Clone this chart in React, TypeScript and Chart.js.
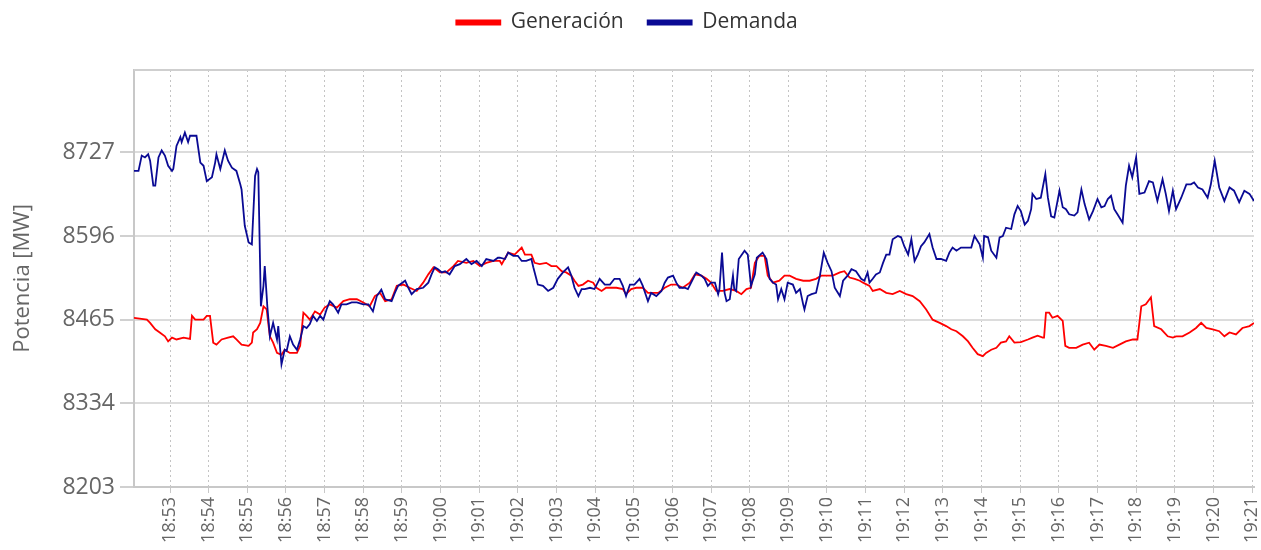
import React, { useEffect, useRef } from 'react';
import { Chart, registerables } from 'chart.js';

Chart.register(...registerables);

// Times are seconds after 18:52:00
const BASE_MINUTES = 18 * 60 + 52;

const xTickLabels = [
  '18:53', '18:54', '18:55', '18:56', '18:57', '18:58', '18:59', '19:00', '19:01', '19:02',
  '19:03', '19:04', '19:05', '19:06', '19:07', '19:08', '19:09', '19:10', '19:11', '19:12',
  '19:13', '19:14', '19:15', '19:16', '19:17', '19:18', '19:19', '19:20', '19:21',
];

const yTicks = [8203, 8334, 8465, 8596, 8727];
const yMin = 8203;
const yMax = 8856;

const generacion: [number, number][] = [
  [4, 8468], [24, 8465], [29, 8460], [37, 8450], [44, 8445], [52, 8439], [57, 8431], [63, 8437], [70, 8434], [81, 8437],
  [91, 8435], [94, 8471], [99, 8465], [112, 8465], [117, 8471], [122, 8471], [127, 8429], [132, 8426], [140, 8434], [150, 8437],
  [158, 8439], [163, 8434], [171, 8426], [182, 8424], [187, 8429], [189, 8445], [195, 8450], [200, 8460], [205, 8486], [210, 8481],
  [213, 8455], [215, 8439], [220, 8429], [226, 8413], [233, 8410], [238, 8418], [246, 8413], [257, 8413], [262, 8424], [267, 8476],
  [272, 8471], [277, 8465], [285, 8478], [293, 8473], [300, 8484], [308, 8489], [319, 8484], [329, 8494], [339, 8497], [350, 8497],
  [360, 8492], [370, 8486], [378, 8502], [386, 8507], [394, 8494], [404, 8497], [412, 8518], [422, 8520], [432, 8515], [443, 8510],
  [453, 8523], [461, 8536], [469, 8547], [479, 8539], [489, 8539], [500, 8549], [507, 8557], [520, 8554], [531, 8557], [541, 8549],
  [551, 8554], [562, 8557], [572, 8557], [575, 8552], [585, 8570], [595, 8567], [606, 8578], [611, 8567], [621, 8567], [626, 8554],
  [634, 8552], [644, 8554], [652, 8549], [660, 8549], [668, 8541], [675, 8539], [683, 8534], [688, 8526], [694, 8518], [701, 8520],
  [709, 8526], [717, 8523], [722, 8515], [730, 8510], [737, 8515], [745, 8515], [753, 8515], [763, 8513], [768, 8505], [776, 8513],
  [784, 8515], [794, 8515], [802, 8507], [810, 8507], [818, 8507], [828, 8515], [838, 8520], [846, 8520], [856, 8515], [867, 8523],
  [875, 8536], [885, 8534], [893, 8529], [900, 8523], [908, 8510], [918, 8510], [929, 8513], [939, 8510], [947, 8505], [955, 8513],
  [962, 8515], [968, 8554], [975, 8565], [983, 8565], [988, 8534], [996, 8523], [1006, 8526], [1014, 8534], [1022, 8534], [1032, 8529],
  [1043, 8526], [1053, 8526], [1063, 8529], [1071, 8534], [1079, 8534], [1089, 8534], [1100, 8539], [1107, 8541], [1115, 8531], [1123, 8529],
  [1131, 8526], [1136, 8523], [1146, 8518], [1151, 8510], [1162, 8513], [1172, 8507], [1182, 8505], [1193, 8510], [1203, 8505], [1213, 8502],
  [1224, 8494], [1234, 8481], [1244, 8465], [1255, 8460], [1265, 8455], [1273, 8450], [1281, 8447], [1291, 8439], [1299, 8431], [1306, 8421],
  [1314, 8411], [1322, 8408], [1327, 8413], [1335, 8418], [1343, 8421], [1350, 8429], [1358, 8431], [1363, 8439], [1371, 8429], [1381, 8430],
  [1392, 8434], [1399, 8437], [1407, 8440], [1415, 8437], [1417, 8437], [1420, 8476], [1425, 8476], [1430, 8468], [1438, 8471], [1446, 8463],
  [1450, 8424], [1456, 8421], [1467, 8421], [1477, 8426], [1487, 8429], [1495, 8418], [1503, 8426], [1513, 8424], [1524, 8421], [1534, 8426],
  [1544, 8431], [1555, 8434], [1562, 8434], [1568, 8486], [1575, 8489], [1583, 8500], [1588, 8455], [1599, 8450], [1609, 8439], [1617, 8437],
  [1622, 8439], [1632, 8439], [1643, 8445], [1653, 8452], [1661, 8460], [1669, 8452], [1679, 8450], [1689, 8447], [1697, 8439], [1705, 8445],
  [1715, 8442], [1725, 8452], [1736, 8455], [1743, 8460],
];

const demanda: [number, number][] = [
  [4, 8698], [11, 8698], [16, 8722], [21, 8719], [26, 8724], [29, 8714], [34, 8675], [37, 8675], [42, 8719], [47, 8730],
  [52, 8722], [57, 8706], [63, 8698], [65, 8701], [70, 8737], [76, 8751], [78, 8743], [83, 8758], [88, 8743], [91, 8753],
  [101, 8753], [107, 8711], [112, 8706], [117, 8682], [125, 8688], [130, 8711], [132, 8724], [138, 8701], [145, 8730], [150, 8714],
  [156, 8703], [163, 8698], [169, 8677], [171, 8669], [176, 8612], [182, 8586], [187, 8583], [192, 8690], [195, 8701], [197, 8696],
  [201, 8486], [205, 8518], [207, 8549], [211, 8486], [215, 8439], [220, 8460], [226, 8434], [228, 8455], [231, 8418], [233, 8395],
  [238, 8418], [241, 8416], [246, 8439], [251, 8426], [257, 8418], [262, 8434], [267, 8455], [272, 8452], [277, 8458], [282, 8471],
  [288, 8463], [293, 8471], [298, 8465], [303, 8481], [308, 8494], [313, 8489], [321, 8476], [326, 8489], [334, 8489], [342, 8492],
  [350, 8492], [360, 8489], [368, 8489], [375, 8478], [381, 8502], [388, 8512], [394, 8497], [404, 8494], [409, 8507], [414, 8518],
  [425, 8526], [430, 8515], [435, 8505], [443, 8513], [453, 8515], [461, 8523], [466, 8536], [471, 8547], [476, 8544], [482, 8539],
  [487, 8541], [494, 8536], [502, 8549], [510, 8552], [520, 8560], [528, 8552], [536, 8557], [544, 8549], [551, 8560], [562, 8557],
  [569, 8562], [572, 8562], [580, 8560], [585, 8570], [593, 8565], [600, 8565], [606, 8557], [613, 8557], [621, 8560], [624, 8547],
  [631, 8520], [639, 8518], [647, 8510], [655, 8515], [662, 8529], [670, 8539], [678, 8547], [683, 8534], [688, 8515], [694, 8502],
  [699, 8513], [704, 8513], [712, 8515], [719, 8513], [727, 8529], [735, 8520], [743, 8520], [750, 8529], [758, 8529], [763, 8518],
  [768, 8502], [774, 8520], [781, 8520], [789, 8529], [794, 8518], [802, 8494], [807, 8507], [815, 8502], [823, 8510], [828, 8523],
  [833, 8531], [841, 8534], [846, 8523], [851, 8515], [859, 8515], [864, 8513], [872, 8529], [877, 8539], [885, 8534], [890, 8529],
  [895, 8518], [900, 8523], [906, 8523], [911, 8505], [913, 8513], [917, 8570], [921, 8507], [924, 8494], [929, 8497], [934, 8534],
  [936, 8513], [939, 8510], [943, 8560], [952, 8573], [957, 8567], [962, 8518], [968, 8536], [971, 8562], [980, 8570], [986, 8560],
  [991, 8529], [996, 8523], [1001, 8520], [1004, 8497], [1009, 8513], [1014, 8497], [1019, 8523], [1027, 8520], [1032, 8507], [1038, 8513],
  [1043, 8489], [1045, 8481], [1050, 8502], [1056, 8505], [1063, 8507], [1069, 8534], [1075, 8570], [1081, 8554], [1087, 8541], [1092, 8515],
  [1100, 8502], [1105, 8526], [1112, 8534], [1118, 8544], [1125, 8541], [1133, 8529], [1138, 8526], [1143, 8539], [1146, 8523], [1151, 8529],
  [1156, 8536], [1162, 8539], [1167, 8554], [1172, 8567], [1177, 8567], [1182, 8591], [1190, 8596], [1195, 8594], [1200, 8580], [1206, 8567],
  [1211, 8591], [1216, 8557], [1221, 8567], [1226, 8580], [1231, 8586], [1239, 8599], [1244, 8578], [1250, 8560], [1257, 8560], [1265, 8557],
  [1270, 8570], [1275, 8578], [1281, 8573], [1288, 8578], [1296, 8578], [1304, 8578], [1309, 8596], [1317, 8583], [1322, 8562], [1324, 8596],
  [1330, 8594], [1335, 8573], [1343, 8562], [1348, 8594], [1353, 8596], [1358, 8609], [1366, 8607], [1371, 8630], [1376, 8643], [1381, 8635],
  [1387, 8614], [1392, 8620], [1397, 8638], [1399, 8662], [1405, 8654], [1412, 8656], [1419, 8693], [1423, 8656], [1428, 8627], [1433, 8625],
  [1441, 8667], [1446, 8641], [1451, 8638], [1456, 8630], [1464, 8628], [1469, 8633], [1475, 8669], [1480, 8646], [1487, 8622], [1493, 8635],
  [1500, 8654], [1506, 8641], [1511, 8643], [1516, 8654], [1521, 8659], [1526, 8638], [1531, 8630], [1539, 8617], [1544, 8675], [1549, 8706],
  [1554, 8688], [1560, 8719], [1565, 8662], [1573, 8664], [1580, 8682], [1586, 8680], [1593, 8651], [1601, 8685], [1606, 8662], [1611, 8635],
  [1617, 8667], [1622, 8638], [1630, 8656], [1638, 8677], [1645, 8677], [1650, 8680], [1656, 8672], [1663, 8669], [1671, 8656], [1676, 8677],
  [1682, 8714], [1689, 8672], [1697, 8651], [1705, 8672], [1712, 8667], [1720, 8649], [1728, 8667], [1736, 8662], [1743, 8651],
];

const FONT = "'Open Sans', sans-serif";
const GEN_COLOR = '#ff0000';
const DEM_COLOR = '#0a0a94';

function labelToSeconds(label: string): number {
  const [h, m] = label.split(':').map(Number);
  return (h * 60 + m - BASE_MINUTES) * 60;
}

const xTickValues = xTickLabels.map(labelToSeconds);

export default function App() {
  const ref = useRef<HTMLCanvasElement | null>(null);

  useEffect(() => {
    document.body.style.margin = '0';
    const canvas = ref.current;
    if (!canvas) return;

    const allTimes = [...generacion, ...demanda].map((p) => p[0]);
    const xMin = Math.min(...allTimes);
    const xMax = Math.max(...allTimes);

    const legendFit = {
      id: 'legendFit',
      beforeInit(chart: any) {
        const lg = chart.legend;
        if (!lg) return;
        const orig = lg.fit;
        lg.fit = function () {
          orig.call(this);
          this.height = 82;
        };
      },
    };

    const topBorder = {
      id: 'topBorder',
      beforeDatasetsDraw(chart: any) {
        const { ctx, chartArea: a } = chart;
        ctx.save();
        ctx.strokeStyle = '#cfcfcf';
        ctx.lineWidth = 2;
        ctx.beginPath();
        ctx.moveTo(a.left, a.top);
        ctx.lineTo(a.right, a.top);
        ctx.stroke();
        ctx.restore();
      },
    };

    const chart = new Chart(canvas, {
      type: 'line',
      data: {
        datasets: [
          {
            label: 'Generación',
            data: generacion.map(([x, y]) => ({ x, y })),
            borderColor: GEN_COLOR,
            backgroundColor: GEN_COLOR,
            borderWidth: 1.8,
            pointRadius: 0,
            tension: 0,
            order: 1,
          },
          {
            label: 'Demanda',
            data: demanda.map(([x, y]) => ({ x, y })),
            borderColor: DEM_COLOR,
            backgroundColor: DEM_COLOR,
            borderWidth: 1.8,
            pointRadius: 0,
            tension: 0,
            order: 0,
          },
        ],
      },
      options: {
        animation: false,
        responsive: false,
        devicePixelRatio: 1,
        layout: { padding: { top: -12, right: 7, left: 0, bottom: 0 } },
        plugins: {
          legend: {
            position: 'top',
            labels: {
              boxWidth: 44,
              boxHeight: 4,
              padding: 24,
              color: '#333333',
              font: { family: FONT, size: 21 },
              sort: (a: any, b: any) => a.datasetIndex - b.datasetIndex,
            },
          },
          tooltip: { enabled: false },
        },
        scales: {
          x: {
            type: 'linear',
            min: xMin,
            max: xMax,
            afterBuildTicks: (s: any) => {
              s.ticks = xTickValues.map((v) => ({ value: v }));
            },
            afterFit: (s: any) => {
              s.height = 63;
              s.paddingRight = 0;
              s.paddingLeft = 0;
            },
            ticks: {
              autoSkip: false,
              minRotation: 90,
              maxRotation: 90,
              color: '#666666',
              padding: 4,
              font: { family: FONT, size: 18 },
              callback: (v: any) => {
                const i = xTickValues.indexOf(Number(v));
                return i >= 0 ? xTickLabels[i] : '';
              },
            },
            grid: {
              color: '#c4c4c4',
              lineWidth: 1,
              tickLength: 6,
              tickColor: '#c8c8c8',
            },
            border: { color: '#c8c8c8', width: 2, dash: [2, 3] },
          },
          y: {
            min: yMin,
            max: yMax,
            afterBuildTicks: (s: any) => {
              s.ticks = yTicks.map((v) => ({ value: v }));
            },
            afterFit: (s: any) => {
              s.width = 134;
            },
            title: {
              display: true,
              text: 'Potencia [MW]',
              color: '#666666',
              font: { family: FONT, size: 22 },
              padding: { top: 10, bottom: 0 },
            },
            ticks: {
              color: '#666666',
              padding: 5,
              font: { family: FONT, size: 23 },
              callback: (v: any) => String(v),
            },
            grid: { color: '#dcdcdc', lineWidth: 2, tickLength: 14, tickColor: '#d0d0d0' },
            border: { color: '#c8c8c8', width: 2 },
          },
        },
      },
      plugins: [legendFit, topBorder],
    } as any);

    return () => chart.destroy();
  }, []);

  return <canvas ref={ref} width={1261} height={550} style={{ display: 'block' }} />;
}
